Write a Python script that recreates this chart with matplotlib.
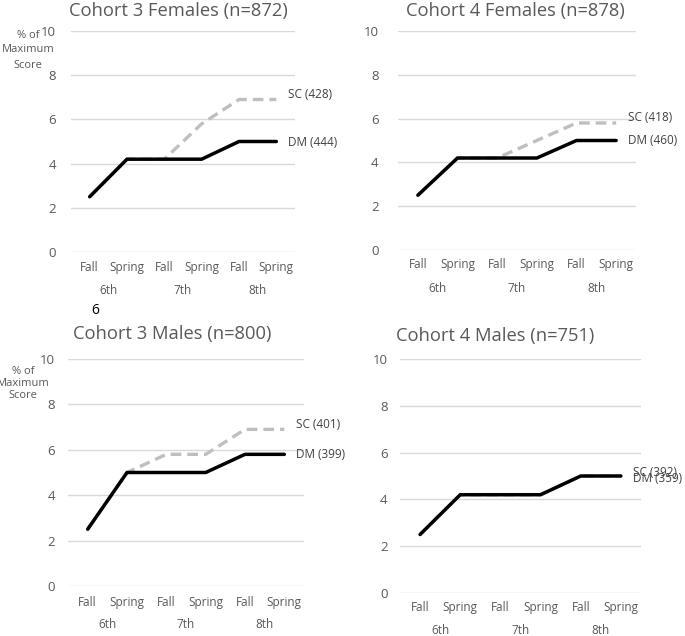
import matplotlib
matplotlib.use("Agg")
import matplotlib.pyplot as plt

W, H = 685, 636
DPI = 100

# ---- data ----
seasons = ["Fall", "Spring", "Fall", "Spring", "Fall", "Spring"]
grades = ["6th", "7th", "8th"]
yticks = [0, 2, 4, 6, 8, 10]

c3f_dm = [2.5, 4.2, 4.2, 4.2, 5.0, 5.0]
c3f_sc = [2.5, 4.2, 4.2, 5.8, 6.9, 6.9]
c4f_dm = [2.5, 4.2, 4.2, 4.2, 5.0, 5.0]
c4f_sc = [2.5, 4.2, 4.2, 5.0, 5.8, 5.8]
c3m_dm = [2.5, 5.0, 5.0, 5.0, 5.8, 5.8]
c3m_sc = [2.5, 5.0, 5.8, 5.8, 6.9, 6.9]
c4m_dm = [2.5, 4.2, 4.2, 4.2, 5.0, 5.0]
c4m_sc = [2.5, 4.2, 4.2, 4.2, 5.0, 5.0]

titles = ["Cohort 3 Females (n=872)", "Cohort 4 Females (n=878)",
          "Cohort 3 Males (n=800)", "Cohort 4 Males (n=751)"]
sc_labels = ["SC (428)", "SC (418)", "SC (401)", "SC (392)"]
dm_labels = ["DM (444)", "DM (460)", "DM (399)", "DM (359)"]

plt.rcParams["font.family"] = ["Open Sans", "DejaVu Sans"]

fig = plt.figure(figsize=(W / DPI, H / DPI), dpi=DPI)

def px_axes(left, right, top, bottom):
    return fig.add_axes([left / W, 1 - bottom / H, (right - left) / W, (bottom - top) / H])

TICK_C = "#595959"
GRID_C = "#D9D9D9"

panels = [
    dict(box=(71, 295, 31, 252), title=(178, 11), cat=16, grp=38, ypad=11,
         sc=(c3f_sc, (12, 5)), dm=(c3f_dm, (12, -1)), ylab=(28, [35, 50, 65])),
    dict(box=(398, 636, 31, 250), title=(515, 11), cat=15, grp=39, ypad=14,
         sc=(c4f_sc, (12, 5)), dm=(c4f_dm, (12, 0))),
    dict(box=(68, 304, 359, 586), title=(172, 334), cat=17, grp=39, ypad=9.5,
         sc=(c3m_sc, (12, 5)), dm=(c3m_dm, (12, 0)), ylab=(23, [371, 383, 395])),
    dict(box=(400, 641, 359, 593), title=(495, 336), cat=15, grp=38, ypad=9,
         sc=(c4m_sc, (12, 3)), dm=(c4m_dm, (12, -3))),
]

x = list(range(len(seasons)))
for i, p in enumerate(panels):
    l, r, t, b = p["box"]
    ax = px_axes(l, r, t, b)
    ax.set_xlim(-0.5, len(seasons) - 0.5)
    ax.set_ylim(0, 10)
    for s in ax.spines.values():
        s.set_visible(False)
    ax.set_yticks(yticks)
    ax.yaxis.grid(True, color=GRID_C, linewidth=1.0)
    ax.set_axisbelow(True)
    ax.tick_params(axis="y", length=0, pad=p["ypad"], labelsize=9.5, labelcolor=TICK_C)
    ax.set_xticks(x)
    ax.set_xticklabels(seasons)
    ax.tick_params(axis="x", length=0, pad=p["cat"] * 0.72 - 5, labelsize=8.5, labelcolor=TICK_C)
    for g, name in enumerate(grades):
        ax.annotate(name, xy=(2 * g + 0.5, 0), xycoords=("data", "axes fraction"),
                    xytext=(0, -p["grp"] * 0.72), textcoords="offset points",
                    ha="center", va="center", fontsize=8.5, color=TICK_C,
                    annotation_clip=False)
    sc_vals, sc_off = p["sc"]
    dm_vals, dm_off = p["dm"]
    ax.plot(x, sc_vals, color="#BFBFBF", linewidth=2.4, linestyle=(0, (3.2, 1.8)),
            solid_capstyle="butt", clip_on=False)
    ax.plot(x, dm_vals, color="black", linewidth=2.5, solid_capstyle="round",
            solid_joinstyle="round", clip_on=False)
    ax.annotate(sc_labels[i], xy=(x[-1], sc_vals[-1]), xytext=(sc_off[0] * 0.72, sc_off[1] * 0.72),
                textcoords="offset points", ha="left", va="center", fontsize=8.5,
                color="#404040", annotation_clip=False)
    ax.annotate(dm_labels[i], xy=(x[-1], dm_vals[-1]), xytext=(dm_off[0] * 0.72, dm_off[1] * 0.72),
                textcoords="offset points", ha="left", va="center", fontsize=8.5,
                color="#404040", annotation_clip=False)
    tx, ty = p["title"]
    fig.text(tx / W, 1 - ty / H, titles[i], ha="center", va="center", fontsize=13.2, color="#595959")
    if "ylab" in p:
        yx, ys = p["ylab"]
        for txt, yy in zip(["% of", "Maximum", "Score"], ys):
            fig.text(yx / W, 1 - yy / H, txt, ha="center", va="center", fontsize=8, color=TICK_C)

fig.text(95 / W, 1 - 310 / H, "6", ha="center", va="center", fontsize=10, color="black")

fig.savefig("out.png", dpi=DPI)
